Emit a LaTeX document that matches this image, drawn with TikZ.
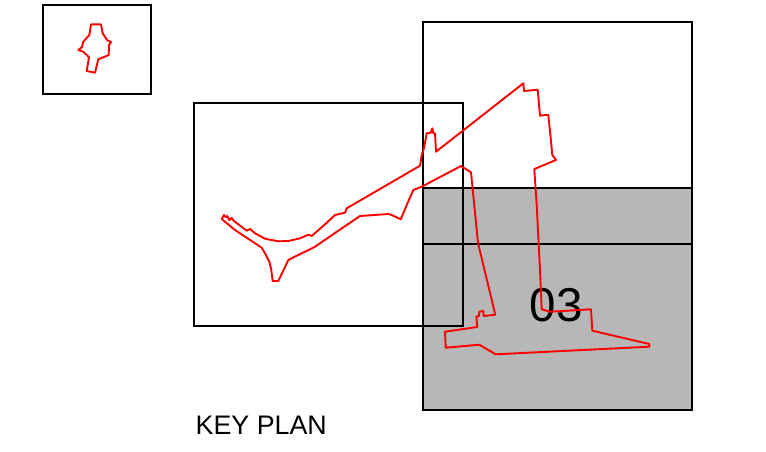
\documentclass[tikz,border=0pt]{standalone}
\usepackage{fontspec}
\setmainfont{Liberation Sans}
\definecolor{sheet}{HTML}{B7B7B7}
\tikzset{
  frameline/.style={draw=black,line width=1.5pt},
  redline/.style={draw=red,line width=1.9pt,line join=round},
  label/.style={inner sep=0pt,anchor=base west,text=black}
}
\begin{document}
\begin{tikzpicture}[x=1pt,y=-1pt]
\useasboundingbox (0,0) rectangle (766,451);
\fill[white] (0,0) rectangle (766,451);
\fill[sheet] (423,188) rectangle (692,410);
\draw[frameline] (423,188) rectangle (692,410);
\draw[frameline] (423,22) rectangle (692,244);
\draw[frameline] (194,103) rectangle (463,326);
\draw[frameline] (43,5) rectangle (151,94);
\node[label,font=\fontsize{47.5}{48}\selectfont] (sheetno) at (529.5,321) {03};
\node[label,font=\fontsize{26.8}{27}\selectfont] (keyplan) at (195.5,434) {KEY PLAN};
\draw[redline] (91,24.3) -- (101,24.3) -- (102.7,33.3) -- (107,40) -- (111,42) -- (109,45) -- (108.7,55) -- (98.3,59.3) -- (95,72.7) -- (86.7,71) -- (89,57.3) -- (83.3,51.7) -- (78.3,50) -- (82,47) -- (83.3,41.7) -- (89.3,35) -- cycle;
\draw[redline] (221.7,219) -- (224,215) -- (225.7,217.3) -- (227.3,216) -- (229.3,220) -- (231.7,218) -- (234,221) -- (246.7,230.7) -- (250,229) -- (255,233.3) -- (265,238.7) -- (278.3,241.3) -- (288.3,241) -- (300,238.3) -- (308.3,234.7) -- (311.7,236) -- (325,224.3) -- (335,215) -- (345,212.7) -- (346.7,208.3) -- (420,165.7) -- (421.7,155) -- (424,148) -- (426.7,133.3) -- (430.7,132.7) -- (432.3,128.3) -- (433.3,133.3) -- (435,133.3) -- (436,151.7) -- (523.3,83.3) -- (524,91) -- (537.7,89.7) -- (540,115.7) -- (548.3,114.7) -- (550.7,138.3) -- (552.3,155) -- (556,160) -- (534.3,169) -- (536.7,205) -- (540,270) -- (541.7,309.3) -- (550,311.7) -- (591,309.3) -- (592.3,330.7) -- (649.3,344) -- (649.3,346.7) -- (495.7,354.3) -- (479.3,344.7) -- (445.7,347.7) -- (445,331.7) -- (477.3,327) -- (476.3,316.7) -- (479,316) -- (479.3,311.7) -- (483.3,311) -- (483.7,316) -- (495.3,314.7) -- (478,243) -- (471,172.3) -- (461,166) -- (421.7,186.7) -- (413.3,190) -- (406.7,205) -- (400.7,219.3) -- (391.7,215) -- (388.3,214) -- (360,216) -- (338.3,230.7) -- (315,246.7) -- (288.3,260) -- (278.3,281) -- (272.7,281) -- (271,268.3) -- (269.3,261.7) -- (265,253.3) -- (261.7,247.7) -- (235,230) -- cycle;
\end{tikzpicture}
\end{document}
